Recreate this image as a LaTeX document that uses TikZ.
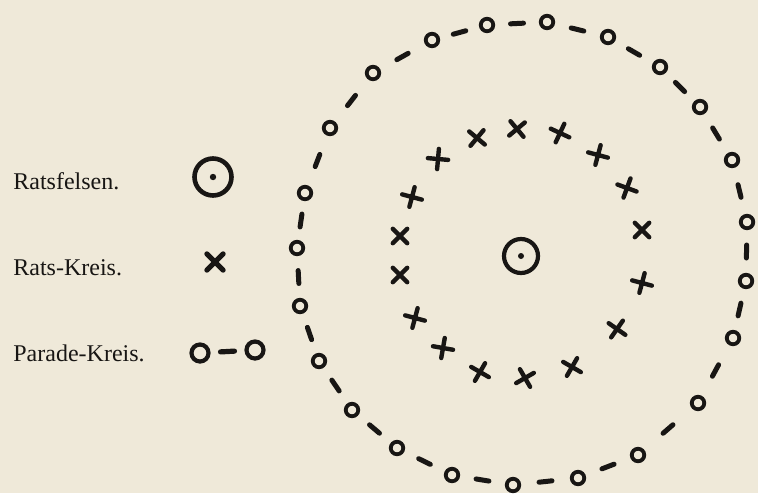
\documentclass[tikz,border=0pt]{standalone}
\usepackage{fontspec}
\setmainfont{Liberation Serif}
\usetikzlibrary{calc,shapes.misc}
\definecolor{paper}{RGB}{239,233,217}
\definecolor{ink}{RGB}{24,22,20}
\begin{document}
\begin{tikzpicture}[x=0.5pt, y=-0.5pt,
    ringo/.style={circle, draw=ink, line width=1.9pt, minimum size=6.25pt, inner sep=0pt},
    lego/.style={ringo, line width=2.1pt, minimum size=8.5pt},
    dashline/.style={ink, line width=2.5pt, line cap=round},
    kreuz/.style={cross out, draw=ink, line width=2.2pt, line cap=round, minimum size=5pt, inner sep=0pt},
    felsen/.style={circle, draw=ink, line width=2.1pt, minimum size=17pt, inner sep=0pt},
    legtext/.style={anchor=base west, text=ink, font=\fontsize{12}{14}\selectfont, inner sep=0pt}]
  % 紙
  \fill[paper] (0,0) rectangle (758,493);
  \useasboundingbox (0,0) rectangle (758,493);
  % 凡例
  \node[felsen, line width=2.3pt, minimum size=18.5pt] (lf) at (213,177) {};
  \fill[ink] (lf) circle (3.2);
  \node[kreuz, line width=2.6pt, minimum size=5.5pt] (lk) at (215,262) {};
  \node[lego] (lo1) at (200,353) {};
  \node[lego] (lo2) at (255,350) {};
  \coordinate (lm) at ($(lo1)!0.5!(lo2)$);
  \draw[dashline, line width=2.6pt] ($(lm)!3.5pt!(lo1)$) -- ($(lm)!3.5pt!(lo2)$);
  \node[legtext] (t1) at (13,189) {Ratsfelsen.};
  \node[legtext] (t2) at (13,275) {Rats-Kreis.};
  \node[legtext] (t3) at (13,361) {Parade-Kreis.};
  % 中心
  \node[felsen] (rf) at (521,256) {};
  \fill[ink] (rf) circle (3);
  % Rats-Kreis
  \foreach \i/\x/\y/\r in {1/477/138/5, 2/517/129/-5, 3/560/133/20, 4/598/155/30,
      5/627/188/25, 6/642/230/0, 7/642/283/30, 8/617/329/10, 9/572/367/15,
      10/525/378/-15, 11/480/372/15, 12/443/348/35, 13/415/318/30, 14/400/275/0,
      15/400/236/0, 16/412/197/30, 17/438/159/40}
    \node[kreuz, rotate=\r] (k\i) at (\x,\y) {};
  % Parade-Kreis
  \foreach \i/\x/\y in {1/547/22, 2/608/37, 3/660/67, 4/700/107, 5/732/160,
      6/747/222, 7/746/281, 8/733/338, 9/698/403, 10/638/455, 11/578/478,
      12/513/485, 13/452/475, 14/397/448, 15/352/410, 16/319/361, 17/300/306,
      18/297/248, 19/305/193, 20/330/128, 21/373/73, 22/432/40, 23/487/25}
    \node[ringo] (o\i) at (\x,\y) {};
  \foreach \a/\b in {1/2, 2/3, 3/4, 4/5, 5/6, 6/7, 7/8, 8/9, 9/10, 10/11, 11/12,
      12/13, 13/14, 14/15, 15/16, 16/17, 17/18, 18/19, 19/20, 20/21, 21/22,
      22/23, 23/1} {
    \coordinate (m) at ($(o\a)!0.5!(o\b)$);
    \draw[dashline] ($(m)!3.25pt!(o\a)$) -- ($(m)!3.25pt!(o\b)$);
  }
\end{tikzpicture}
\end{document}
